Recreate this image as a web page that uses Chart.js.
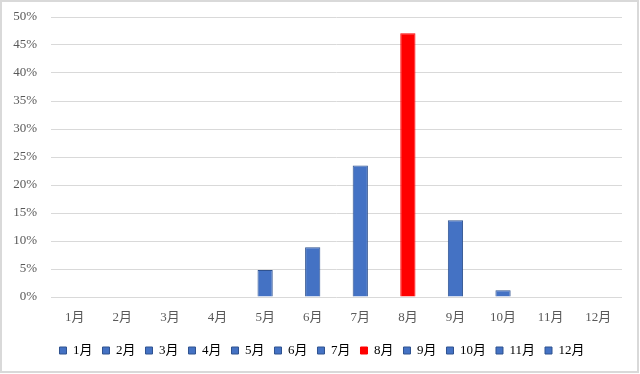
<!DOCTYPE html>
<html>
<head>
<meta charset="utf-8">
<script src="https://cdn.jsdelivr.net/npm/chart.js@4/dist/chart.umd.min.js"></script>
<style>
html,body{margin:0;padding:0;background:#fff;}
#wrap{width:640px;height:374px;position:relative;}
</style>
</head>
<body>
<div id="wrap"><canvas id="c" width="640" height="374"></canvas></div>
<script>
const categories = ["1月","2月","3月","4月","5月","6月","7月","8月","9月","10月","11月","12月"];
const values = [0, 0, 0, 0, 4.8, 8.9, 23.5, 47.1, 13.7, 1.2, 0, 0];
const highlightMonth = "8月";
const yTicks = [0, 5, 10, 15, 20, 25, 30, 35, 40, 45, 50];

const BLUE = "#4472C4", BLUE_EDGE = "#2F528F", RED = "#FF0000";
const fills = categories.map(c => c === highlightMonth ? RED : BLUE);
const edges = categories.map(c => c === highlightMonth ? RED : BLUE_EDGE);
const FONT = "'Liberation Serif', 'DejaVu Serif', 'Noto Sans CJK JP', serif";
const TXT = "#595959";

const frame = {
  id: "frame",
  beforeDraw(chart) {
    const ctx = chart.ctx;
    ctx.save();
    ctx.fillStyle = "#fff";
    ctx.fillRect(0, 0, chart.width, chart.height);
    ctx.strokeStyle = "#d9d9d9";
    ctx.lineWidth = 2;
    ctx.strokeRect(1, 1, chart.width - 3, chart.height - 3);
    ctx.restore();
  },
  afterLayout(chart) {
    const l = chart.legend;
    if (l) { l.left += 11; l.right += 11; }
  }
};

new Chart(document.getElementById("c"), {
  type: "bar",
  data: {
    labels: categories,
    datasets: [{
      data: values,
      backgroundColor: fills,
      borderColor: edges,
      borderWidth: 1,
      categoryPercentage: 1,
      barPercentage: 0.32
    }]
  },
  options: {
    responsive: false,
    animation: false,
    devicePixelRatio: 1,
    layout: { padding: { top: 17, right: 18, left: 0, bottom: 7 } },
    scales: {
      x: {
        grid: { display: false, drawTicks: false },
        border: { display: false },
        ticks: { color: TXT, font: { family: FONT, size: 13 }, padding: 13, maxRotation: 0 },
        afterFit(s) { s.height = 37; }
      },
      y: {
        min: 0, max: 50,
        afterBuildTicks(s) { s.ticks = yTicks.map(v => ({ value: v })); },
        grid: { color: "#d9d9d9", lineWidth: 1, drawTicks: true, tickLength: 14, tickColor: "rgba(0,0,0,0)" },
        border: { display: false },
        ticks: { color: TXT, font: { family: FONT, size: 13 }, padding: 0, callback: v => v + "%" },
        afterFit(s) { s.width = 51; }
      }
    },
    plugins: {
      tooltip: { enabled: false },
      legend: {
        position: "bottom",
        labels: {
          color: TXT,
          font: { family: FONT, size: 13 },
          boxWidth: 7,
          boxHeight: 7,
          padding: 10,
          generateLabels(chart) {
            const ds = chart.data.datasets[0];
            return chart.data.labels.map((l, i) => ({
              text: l,
              fillStyle: ds.backgroundColor[i],
              strokeStyle: ds.borderColor[i],
              lineWidth: 1,
              hidden: false,
              index: i
            }));
          }
        }
      }
    }
  },
  plugins: [frame]
});
</script>
</body>
</html>
